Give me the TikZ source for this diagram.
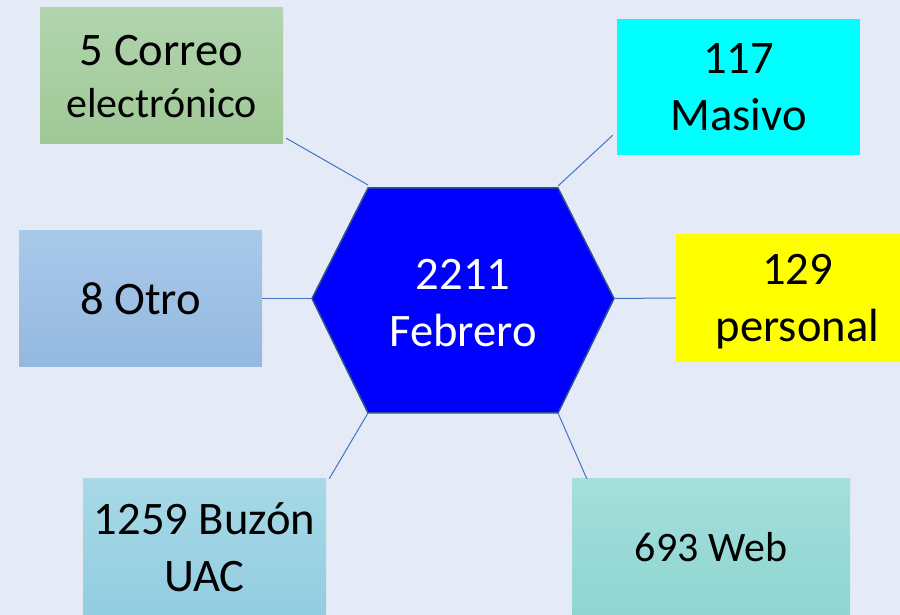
\documentclass[tikz,border=0pt]{standalone}
\usepackage{fontspec}
\setmainfont{Carlito}
\usepackage{tikz}
\definecolor{pagebg}{HTML}{E4EBF7}
\definecolor{linkblue}{HTML}{4472C4}
\definecolor{hexline}{HTML}{2F528F}
\definecolor{hexfill}{HTML}{0000FF}
\definecolor{correotop}{HTML}{B1D4AD}
\definecolor{correobot}{HTML}{A0C896}
\definecolor{otrotop}{HTML}{A9C9EB}
\definecolor{otrobot}{HTML}{94B8DF}
\definecolor{buzontop}{HTML}{A7D9E7}
\definecolor{buzonbot}{HTML}{92CDE0}
\definecolor{webtop}{HTML}{A4DFDC}
\definecolor{webbot}{HTML}{8FD5D0}
\definecolor{masivofill}{HTML}{00FFFF}
\definecolor{personalfill}{HTML}{FFFF00}
\tikzset{
    raw box/.style={rectangle, inner sep=0pt, minimum width=243pt, minimum height=136pt, align=center, text=black, font=\fontsize{46.6}{57}\selectfont},
    box correo/.style={raw box, top color=correotop, bottom color=correobot},
    box masivo/.style={raw box, fill=masivofill},
    box otro/.style={raw box, top color=otrotop, bottom color=otrobot},
    box personal/.style={raw box, fill=personalfill, minimum height=128pt},
    box buzon/.style={raw box, top color=buzontop, bottom color=buzonbot},
    box web/.style={raw box, minimum width=278pt, top color=webtop, bottom color=webbot},
    hexagon/.style={fill=hexfill, draw=hexline, line width=1.5pt, line join=miter},
    hub/.style={inner sep=0pt, align=center, text=white, font=\fontsize{46.6}{57}\selectfont},
    link/.style={draw=linkblue, line width=1pt}
}
\begin{document}
\begin{tikzpicture}[x=1pt, y=1pt]
    \fill[pagebg] (0,0) rectangle (900,615);
    \useasboundingbox (0,0) rectangle (900,615);
    \clip (0,0) rectangle (900,615);
    \node[box correo, text depth=-3pt] (correo) at (161.5,539) {5 Correo\\[-5pt]{\fontsize{42}{51}\selectfont electrónico}};
    \node[box masivo] (masivo) at (738.5,528) {117\\Masivo};
    \node[box otro] (otro) at (140.5,316.5) {8 Otro};
    \node[box personal, text depth=0pt] (personal) at (797.5,317) {129\\personal};
    \node[box buzon] (buzon) at (204.5,68) {1259 Buzón\\UAC};
    \node[box web, font=\fontsize{42}{51}\selectfont] (web) at (711,68) {693 Web};
    \draw[hexagon] (312,316.5) coordinate (hub w) -- (368,427) coordinate (hub nw)
        -- (558,427) coordinate (hub ne) -- (614,316.5) coordinate (hub e)
        -- (558,202) coordinate (hub se) -- (368,202) coordinate (hub sw) -- cycle;
    \node[hub] (hub) at (463,312) {2211\\Febrero};
    \draw[link] ([shift={(3,6)}]correo.south east) -- ([yshift=3]hub nw);
    \draw[link] ([shift={(-4,20)}]masivo.south west) -- ([yshift=2]hub ne);
    \draw[link] (otro.east) -- (hub w);
    \draw[link] (hub e) -- (personal.west);
    \draw[link] ([xshift=3]buzon.north east) -- (hub sw);
    \draw[link] (hub se) -- ([xshift=15]web.north west);
\end{tikzpicture}
\end{document}
